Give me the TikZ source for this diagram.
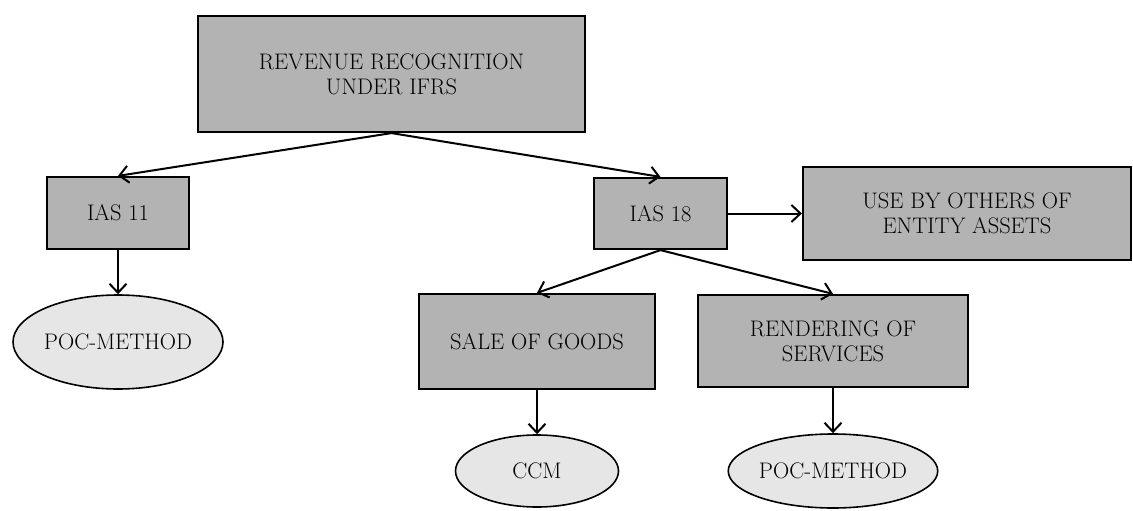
\documentclass[tikz,border=0pt]{standalone}
\usepackage{fontspec}
\usetikzlibrary{arrows.meta,shapes.geometric}
\tikzset{
  box/.style={draw=black, line width=2.2pt, fill=boxgray, rectangle, inner sep=0pt,
    align=center, font=\fontsize{22.5}{25}\selectfont},
  oval/.style={draw=black, line width=1.6pt, fill=ovalgray, ellipse, inner sep=0pt,
    align=center, font=\fontsize{22.5}{25}\selectfont},
  link/.style={line width=2pt, -{Straight Barb[length=9pt,width=17pt,line width=2pt]}},
}
\definecolor{boxgray}{RGB}{179,179,179}
\definecolor{ovalgray}{RGB}{230,230,230}
\begin{document}
\begin{tikzpicture}[x=1pt,y=-1pt]
  \useasboundingbox (0,0) rectangle (1133,511);

  % main heading
  \node[box, minimum width=387pt, minimum height=116pt] (rev) at (391.5,74)
    {REVENUE RECOGNITION\\UNDER IFRS};

  % standards
  \node[box, minimum width=142pt, minimum height=72pt] (ias11) at (118,213) {IAS 11};
  \node[box, minimum width=133pt, minimum height=71pt] (ias18) at (660.5,213.5) {IAS 18};
  \node[box, minimum width=328pt, minimum height=93pt] (use) at (967,213.5)
    {USE BY OTHERS OF\\ENTITY ASSETS};

  % IAS 18 categories
  \node[box, minimum width=236pt, minimum height=95pt] (sale) at (537,341.5) {SALE OF GOODS};
  \node[box, minimum width=270pt, minimum height=92pt] (rend) at (833,341)
    {RENDERING OF\\SERVICES};

  % methods
  \node[oval, minimum width=210pt, minimum height=94pt] (poc1) at (118,342) {POC-METHOD};
  \node[oval, minimum width=163pt, minimum height=72pt] (ccm) at (537,471) {CCM};
  \node[oval, minimum width=200pt, minimum height=74pt] (poc2) at (833,471) {POC-METHOD};

  % connectors
  \draw[link] (rev.south) -- (ias11.north);
  \draw[link] (rev.south) -- (ias18.north);
  \draw[link] (ias11.south) -- (poc1.north);
  \draw[link] (ias18.east) -- (use.west);
  \draw[link] (ias18.south) -- (sale.north);
  \draw[link] (ias18.south) -- (rend.north);
  \draw[link] (sale.south) -- (ccm.north);
  \draw[link] (rend.south) -- (poc2.north);
\end{tikzpicture}
\end{document}
